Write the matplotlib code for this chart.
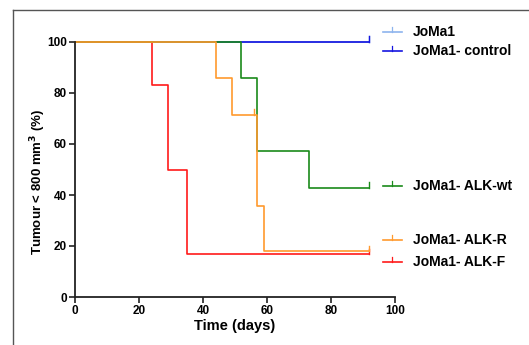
import matplotlib
matplotlib.use("Agg")
import matplotlib.pyplot as plt
from matplotlib.lines import Line2D

plt.rcParams["font.family"] = ["Liberation Sans", "DejaVu Sans"]
plt.rcParams["font.weight"] = "bold"

# Kaplan-Meier curves: step times (days) and % tumour < 800 mm3
names = ["JoMa1", "JoMa1- control", "JoMa1- ALK-wt", "JoMa1- ALK-R", "JoMa1- ALK-F"]
colors = ["#8db4ee", "#1515e0", "#1a8a1a", "#ff9a2e", "#ff1a1a"]
t_joma1 = [0, 92]
s_joma1 = [100, 100]
t_ctrl = [0, 92]
s_ctrl = [100, 100]
t_wt = [0, 52, 57, 73, 92]
s_wt = [100, 85.7, 57.1, 42.9, 42.9]
t_r = [0, 44, 49, 57, 59, 92]
s_r = [100, 85.7, 71.4, 35.7, 17.9, 17.9]
t_f = [0, 24, 29, 35, 92]
s_f = [100, 83.3, 50.0, 16.7, 16.7]
censor_t = [[92], [92], [92], [56, 92], [92]]
label_y = [104, 96.5, 43.5, 22.4, 13.7]

times = [t_joma1, t_ctrl, t_wt, t_r, t_f]
surv = [s_joma1, s_ctrl, s_wt, s_r, s_f]

fig = plt.figure(figsize=(5.29, 3.45), dpi=100)
ax = fig.add_axes([75 / 529, 1 - 297 / 345, 320 / 529, 255 / 345])

# drawing order (bottom -> top) as seen on the 100% line
order = [0, 1, 4, 2, 3]
for i in order:
    ax.step(times[i], surv[i], where="post", color=colors[i], lw=1.2, clip_on=False)
    for c in censor_t[i]:
        v = [s for t, s in zip(times[i], surv[i]) if t <= c][-1]
        ax.plot([c, c], [v, v + 2.2], color=colors[i], lw=1.0, clip_on=False)

ax.set_xlim(0, 100)
ax.set_ylim(0, 100)
ax.set_xticks(range(0, 101, 20))
ax.set_yticks(range(0, 101, 20))
for s in ["top", "right"]:
    ax.spines[s].set_visible(False)
for s in ["left", "bottom"]:
    ax.spines[s].set_linewidth(1.3)
    ax.spines[s].set_color("#222222")
ax.tick_params(direction="out", length=4, width=1.2, labelsize=8.5, pad=2, color="#222222")
for lab in ax.get_xticklabels() + ax.get_yticklabels():
    lab.set_fontweight("bold")
ax.set_xlabel("Time (days)", fontsize=10.5, fontweight="bold", labelpad=1)
ax.set_ylabel("Tumour < 800 mm$^\\mathbf{3}$ (%)", fontsize=9.5, fontweight="bold")
ax.yaxis.set_label_coords(-0.085, 0.45)

# labels at right of the curves
for i in range(len(names)):
    y = label_y[i]
    ax.add_line(Line2D([96.3, 102.2], [y, y], color=colors[i], lw=1.2, clip_on=False))
    ax.add_line(Line2D([99.2, 99.2], [y, y + 1.8], color=colors[i], lw=0.9, clip_on=False))
    ax.text(105.5, y, names[i], fontsize=10, fontweight="bold", va="center", ha="left",
            clip_on=False)

# outer frame
fig.add_artist(Line2D([13 / 529, 13 / 529], [0, 1 - 10 / 345], color="#555555", lw=1.0))
fig.add_artist(Line2D([13 / 529, 1], [1 - 10 / 345, 1 - 10 / 345], color="#555555", lw=1.0))

fig.savefig("out.png", dpi=100)
